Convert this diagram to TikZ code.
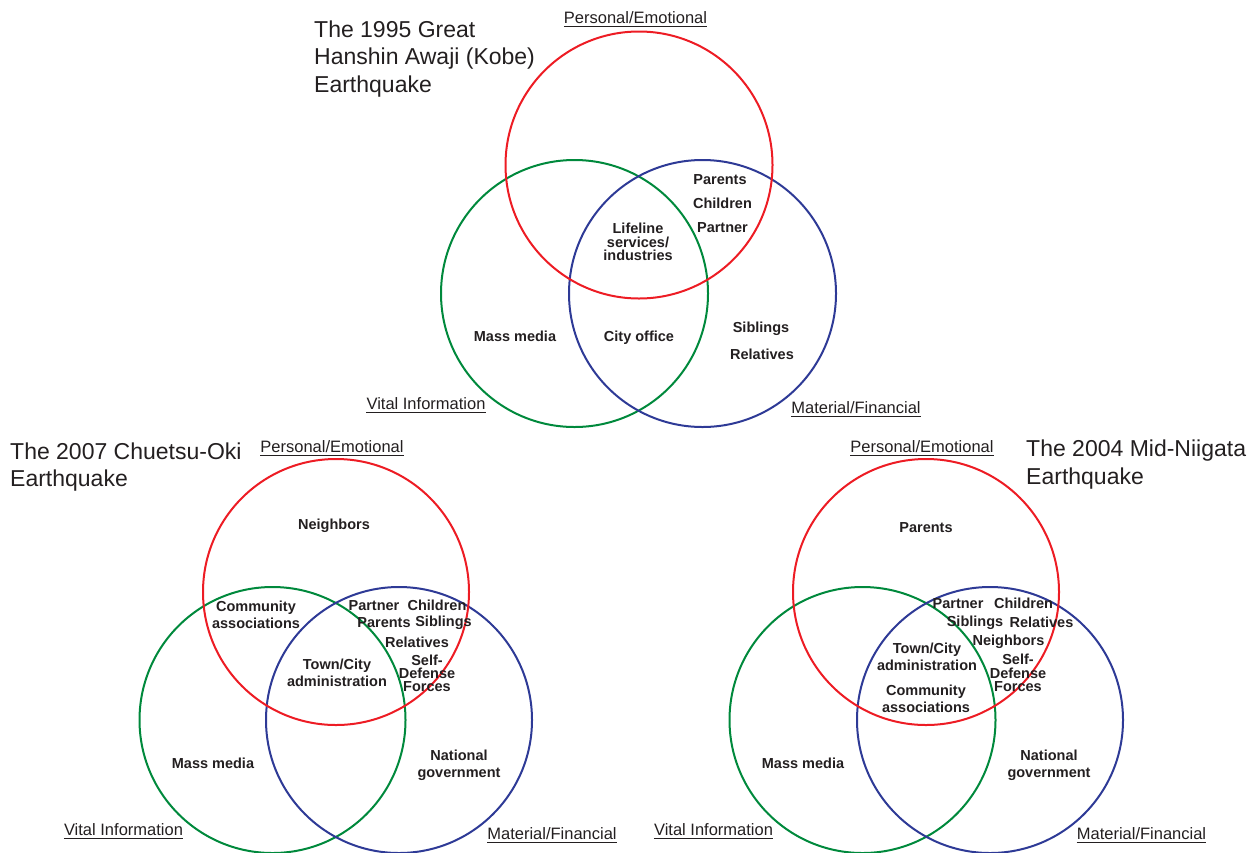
\documentclass[tikz,border=0pt]{standalone}
\usepackage{fontspec}
\setmainfont{Liberation Sans}
\definecolor{textc}{RGB}{35,31,32}
\definecolor{redc}{RGB}{237,28,36}
\definecolor{greenc}{RGB}{0,137,60}
\definecolor{bluec}{RGB}{46,58,150}
\newcommand\ulab[3]{\node[ulabel] (#1) at (#2) {#3};
  \draw[ulline] ([yshift=-3pt]#1.base west) -- ([yshift=-3pt]#1.base east);}
\begin{document}
\begin{tikzpicture}[x=1pt,y=-1pt,
  ring/.style={line width=2pt},
  title/.style={anchor=north west,align=left,inner sep=0pt,text=textc,
    font=\fontsize{23}{27.5}\selectfont},
  ulabel/.style={anchor=base,inner sep=0pt,text=textc,
    font=\fontsize{16.5}{19}\selectfont},
  ulline/.style={line width=1pt,textc},
  item/.style={inner sep=0pt,align=center,text=textc,
    font=\bfseries\fontsize{14.5}{17}\selectfont},
  itemt/.style={inner sep=0pt,align=center,text=textc,
    font=\bfseries\fontsize{14.5}{13.2}\selectfont}]
\useasboundingbox (0,0) rectangle (1257,852);

% ---------- top diagram ----------
\draw[ring,greenc] (574.5,293.5) circle[radius=133.5pt];
\draw[ring,bluec] (702.5,293.5) circle[radius=133.5pt];
\draw[ring,redc] (639,165) circle[radius=133.5pt];
\node[title] (t1) at (314,20.5) {The 1995 Great\\Hanshin Awaji (Kobe)\\Earthquake};
\ulab{pe1}{635.5,23.5}{Personal/Emotional}
\ulab{vi1}{426,409}{Vital Information}
\ulab{mf1}{856,413}{Material/Financial}
\node[item] (a1) at (720,180) {Parents};
\node[item] (a2) at (722.5,203.5) {Children};
\node[item] (a3) at (722.5,228) {Partner};
\node[itemt] (a4) at (638,242) {Lifeline\\services/\\industries};
\node[item] (a5) at (515,336) {Mass media};
\node[item] (a6) at (639,338) {City office};
\node[item] (a7) at (761,328.5) {Siblings};
\node[item] (a8) at (762,354) {Relatives};

% ---------- bottom-left diagram ----------
\draw[ring,greenc] (272.5,720) circle[radius=133pt];
\draw[ring,bluec] (399,720) circle[radius=133pt];
\draw[ring,redc] (336,592) circle[radius=133pt];
\node[title] (t2) at (10,442.5) {The 2007 Chuetsu-Oki\\Earthquake};
\ulab{pe2}{332,452.5}{Personal/Emotional}
\ulab{vi2}{123.5,835}{Vital Information}
\ulab{mf2}{552,839}{Material/Financial}
\node[item] (b1) at (334,526) {Neighbors};
\node[item] (b2) at (256,615) {Community\\associations};
\node[item] (b3) at (374,605.5) {Partner};
\node[item] (b4) at (437,605.5) {Children};
\node[item] (b5) at (384,623) {Parents};
\node[item] (b6) at (443.5,623) {Siblings};
\node[item] (b7) at (417,642) {Relatives};
\node[itemt] (b8) at (427,673.5) {Self-\\Defense\\Forces};
\node[item] (b9) at (337,672.5) {Town/City\\administration};
\node[item] (b10) at (213,763) {Mass media};
\node[item] (b11) at (459,765) {National\\government};

% ---------- bottom-right diagram ----------
\draw[ring,greenc] (862.5,720) circle[radius=133pt];
\draw[ring,bluec] (990,720) circle[radius=133pt];
\draw[ring,redc] (926,592) circle[radius=133pt];
\node[title] (t3) at (1026,440) {The 2004 Mid-Niigata\\Earthquake};
\ulab{pe3}{922,452.5}{Personal/Emotional}
\ulab{vi3}{713.5,835}{Vital Information}
\ulab{mf3}{1141.5,839}{Material/Financial}
\node[item] (c1) at (926,528) {Parents};
\node[item] (c2) at (958,603.5) {Partner};
\node[item] (c3) at (1023.5,603.5) {Children};
\node[item] (c4) at (975,622.5) {Siblings};
\node[item] (c5) at (1041.5,622.5) {Relatives};
\node[item] (c6) at (1008.5,642) {Neighbors};
\node[itemt] (c7) at (1018,673) {Self-\\Defense\\Forces};
\node[item] (c8) at (927,656.5) {Town/City\\administration};
\node[item] (c9) at (926,699) {Community\\associations};
\node[item] (c10) at (803,763) {Mass media};
\node[item] (c11) at (1049,765) {National\\government};
\end{tikzpicture}
\end{document}
